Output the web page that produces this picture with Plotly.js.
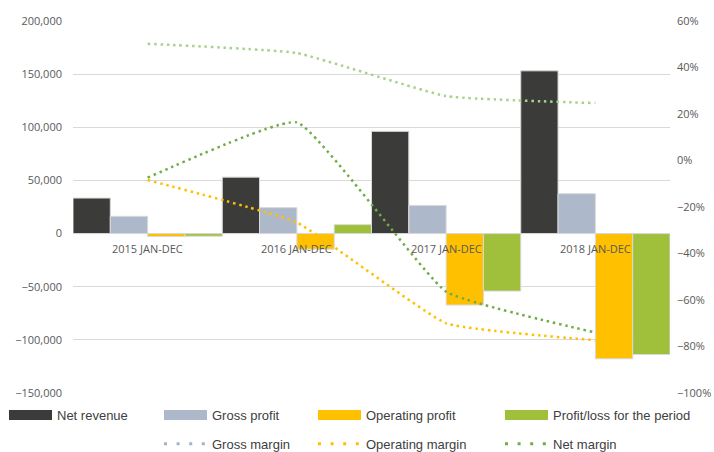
<!DOCTYPE html>
<html>
<head>
<meta charset="utf-8">
<script src="https://cdn.plot.ly/plotly-3.0.1.min.js"></script>
<style>html,body{margin:0;padding:0;background:#fff;}#chart{width:714px;height:452px;}</style>
</head>
<body>
<div id="chart"></div>
<script>
var categories = ['2015 JAN-DEC', '2016 JAN-DEC', '2017 JAN-DEC', '2018 JAN-DEC'];
var netRevenue = [33400, 53100, 96200, 153100];
var grossProfit = [16200, 24400, 26500, 37500];
var operatingProfit = [-2800, -14700, -67200, -117800];
var profitLoss = [-2500, 8400, -54100, -113800];
var grossMargin = [0.502, 0.462, 0.277, 0.247];
var operatingMargin = [-0.084, -0.267, -0.700, -0.773];
var netMargin = [-0.074, 0.164, -0.564, -0.740];
var leftTicks = [-150000, -100000, -50000, 0, 50000, 100000, 150000, 200000];
var rightTicks = [-1, -0.8, -0.6, -0.4, -0.2, 0, 0.2, 0.4, 0.6];

var C_NET = '#3b3b39', C_GP = '#adb9ca', C_OP = '#ffc000', C_PL = '#a0c03b';
var C_GM = '#a9d18e', C_GM_LEG = '#a3b3c8', C_OM = '#ffc000', C_NM = '#70ad47';
var barLine = {color: '#d9d9d9', width: 1};
var chartDash = '2.5px,3.8px';
var legDash = '3px,9.6px';

function bar(name, y, color) {
  return {type: 'bar', name: name, x: categories, y: y, yaxis: 'y',
    marker: {color: color, line: barLine}, showlegend: false, hoverinfo: 'y'};
}
function mline(name, y, color) {
  return {type: 'scatter', mode: 'lines', name: name, x: categories, y: y, yaxis: 'y2',
    line: {color: color, width: 2.5, dash: chartDash, shape: 'spline', smoothing: 0.35},
    showlegend: false, hoverinfo: 'y'};
}
function legBar(name, color, legend) {
  return {type: 'scatter', mode: 'lines', name: name, x: [null], y: [null], legend: legend,
    legendgroup: name, line: {color: color, width: 14}, showlegend: true, hoverinfo: 'skip'};
}
function legDot(name, color, legend) {
  return {type: 'scatter', mode: 'lines', name: name, x: [null], y: [null], legend: legend,
    legendgroup: name, line: {color: color, width: 3, dash: legDash}, showlegend: true, hoverinfo: 'skip'};
}

var data = [
  bar('Net revenue', netRevenue, C_NET),
  bar('Gross profit', grossProfit, C_GP),
  bar('Operating profit', operatingProfit, C_OP),
  bar('Profit/loss for the period', profitLoss, C_PL),
  mline('Gross margin', grossMargin, C_GM),
  mline('Operating margin', operatingMargin, C_OM),
  mline('Net margin', netMargin, C_NM),
  legBar('Net revenue', C_NET, 'legend'),
  legBar('Gross profit', C_GP, 'legend2'),
  legDot('Gross margin', C_GM_LEG, 'legend2'),
  legBar('Operating profit', C_OP, 'legend3'),
  legDot('Operating margin', C_OM, 'legend3'),
  legBar('Profit/loss for the period', C_PL, 'legend4'),
  legDot('Net margin', C_NM, 'legend4')
];

var annotations = categories.map(function (c) {
  return {x: c, y: 0, xref: 'x', yref: 'y', yanchor: 'top', xanchor: 'center', yshift: -5,
    text: c, showarrow: false, font: {family: 'Open Sans', size: 11, color: '#595959'}};
});

function legendAt(px) {
  return {xref: 'container', yref: 'container', x: px / 714, y: 1 - 400 / 452,
    xanchor: 'left', yanchor: 'top', orientation: 'v', itemwidth: 43, tracegroupgap: 9,
    bgcolor: 'rgba(0,0,0,0)', borderwidth: 0,
    font: {family: 'Liberation Sans, Arial, sans-serif', size: 13, color: '#404040'}};
}

var layout = {
  width: 714, height: 452,
  margin: {l: 73, r: 44, t: 21, b: 59, autoexpand: false},
  paper_bgcolor: '#ffffff', plot_bgcolor: '#ffffff',
  barmode: 'group', bargap: 0, bargroupgap: 0,
  showlegend: true,
  xaxis: {type: 'category', showticklabels: false, showgrid: false, zeroline: false,
    showline: false, ticks: '', range: [-0.5, 3.5], automargin: false},
  yaxis: {range: [-150000, 200000], tickvals: leftTicks, tickformat: ',', showgrid: true,
    gridcolor: '#d9d9d9', gridwidth: 1, zeroline: false, showline: false, ticks: '',
    ticklabelstandoff: 10, automargin: false,
    tickfont: {family: 'Open Sans', size: 11, color: '#595959'}},
  yaxis2: {range: [-1, 0.6], tickvals: rightTicks, tickformat: '.0%', overlaying: 'y',
    side: 'right', showgrid: false, zeroline: false, showline: false, ticks: '',
    ticklabelstandoff: 6, automargin: false,
    tickfont: {family: 'Open Sans', size: 11, color: '#595959'}},
  legend: legendAt(4),
  legend2: legendAt(159),
  legend3: legendAt(313),
  legend4: legendAt(500),
  annotations: annotations
};

Plotly.newPlot('chart', data, layout, {displayModeBar: false, staticPlot: true});
</script>
</body>
</html>
